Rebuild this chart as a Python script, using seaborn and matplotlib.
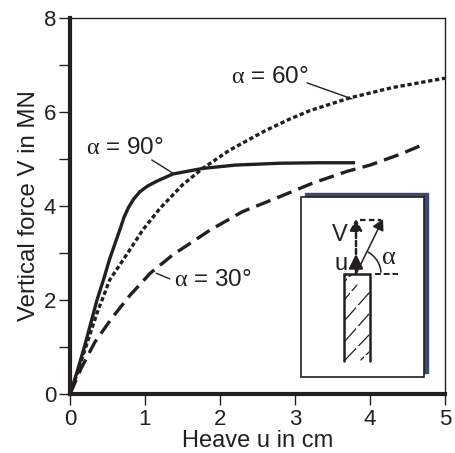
import seaborn as sns
import matplotlib.pyplot as plt
import matplotlib.patches as mpatches
import pandas as pd

# values
u_90 = [0, 0.1, 0.2, 0.36, 0.45, 0.53, 0.6, 0.67, 0.72, 0.78, 0.85, 0.93, 1.03, 1.16, 1.37, 1.77, 2.2, 2.8, 3.3, 3.8]
v_90 = [0, 0.5, 1.05, 2.0, 2.45, 2.88, 3.2, 3.52, 3.76, 3.97, 4.15, 4.3, 4.42, 4.53, 4.68, 4.8, 4.87, 4.91, 4.92, 4.92]
u_60 = [0, 0.1, 0.2, 0.36, 0.53, 0.77, 0.97, 1.2, 1.5, 1.77, 2.13, 2.6, 2.93, 3.2, 3.73, 4.3, 5.0]
v_60 = [0, 0.45, 0.95, 1.72, 2.43, 3.0, 3.49, 3.95, 4.45, 4.8, 5.19, 5.6, 5.85, 6.03, 6.3, 6.52, 6.72]
u_30 = [0, 0.15, 0.33, 0.56, 0.8, 1.07, 1.37, 1.87, 2.3, 2.8, 3.24, 3.7, 4.0, 4.4, 4.7]
v_30 = [0, 0.55, 1.1, 1.62, 2.1, 2.57, 2.96, 3.49, 3.88, 4.2, 4.49, 4.74, 4.87, 5.1, 5.3]

df = pd.concat([
    pd.DataFrame({"u": u_90, "V": v_90, "angle": "90"}),
    pd.DataFrame({"u": u_60, "V": v_60, "angle": "60"}),
    pd.DataFrame({"u": u_30, "V": v_30, "angle": "30"}),
])

sns.set_theme(style="ticks")
plt.rcParams["font.family"] = ["Liberation Sans", "DejaVu Sans"]
plt.rcParams["mathtext.fontset"] = "custom"
plt.rcParams["mathtext.rm"] = "Liberation Serif"

ink = "#231f20"
fs = 16
alpha = r"$\mathrm{\alpha}$"
W, H = 455, 453
fig = plt.figure(figsize=(W / 100, H / 100), dpi=100)
ax = fig.add_axes([70 / W, 1 - 394 / H, 375 / W, 376 / H])

sns.lineplot(data=df, x="u", y="V", hue="angle", style="angle",
             palette={"90": ink, "60": ink, "30": ink},
             dashes={"90": (1, 0), "60": (1.3, 0.8), "30": (4.6, 2.2)},
             sort=False, estimator=None, errorbar=None, linewidth=2.4,
             legend=False, ax=ax, zorder=3)

ax.set_xlim(0, 5)
ax.set_ylim(0, 8)
ax.set_xticks([0, 1, 2, 3, 4, 5])
ax.set_yticks([0, 2, 4, 6, 8])
ax.set_yticks([1, 3, 5, 7], minor=True)
ax.tick_params(axis="y", which="both", length=8, width=1, color=ink, labelsize=fs, labelcolor=ink, pad=2)
ax.tick_params(axis="x", length=8, width=1, color=ink, labelsize=fs, labelcolor=ink, pad=3)
ax.set_xlabel("Heave u in cm", fontsize=17, color=ink, labelpad=0)
ax.set_ylabel("Vertical force V in MN", fontsize=17.3, color=ink, labelpad=3)

for side, lw in {"left": 3, "bottom": 3, "top": 1, "right": 1}.items():
    ax.spines[side].set_visible(True)
    ax.spines[side].set_linewidth(lw)
    ax.spines[side].set_color(ink)

# curve labels
ax.text(0.21, 5.23, alpha + " = 90°", fontsize=17.5, color=ink, va="center")
ax.plot([1.09, 1.37], [4.98, 4.7], color=ink, lw=1)
ax.text(1.38, 2.43, alpha + " = 30°", fontsize=17.5, color=ink, va="center")
ax.plot([1.15, 1.33], [2.57, 2.45], color=ink, lw=1)
ax.text(2.15, 6.74, alpha + " = 60°", fontsize=17.5, color=ink, va="center")
ax.plot([3.16, 3.76], [6.62, 6.28], color=ink, lw=1)

# inset sketch, drawn in pixel coordinates of the figure
sk = fig.add_axes([0, 0, 1, 1], facecolor="none", zorder=5)
sk.set_xlim(0, W)
sk.set_ylim(H, 0)
sk.axis("off")
sk.add_patch(mpatches.Rectangle((305, 193), 123, 180, fc="#3c4a6e", ec="#3c4a6e", lw=1))
sk.add_patch(mpatches.Rectangle((301, 197), 123, 180, fc="white", ec=ink, lw=1.2))

# wall
sk.plot([344, 344, 370, 370], [361, 274, 274, 361], color=ink, lw=1.8, solid_joinstyle="miter")
hatch = [((345, 299), (357, 285)), ((345, 320), (369, 293)), ((345, 341), (369, 314)),
         ((345, 360), (369, 335)), ((361, 360), (369, 352)), ((345, 281), (351, 275))]
for a, b in hatch:
    sk.plot([a[0], b[0]], [a[1], b[1]], color=ink, lw=0.9)
    sk.add_patch(mpatches.Rectangle(((a[0] + b[0]) / 2 - 1.5, (a[1] + b[1]) / 2 - 1.5), 3, 3, fc="white", ec="none", zorder=4))

# arrows
sk.annotate("", xy=(356, 254), xytext=(356, 274), arrowprops=dict(arrowstyle="-|>,head_width=0.35,head_length=0.7", color=ink, lw=1.8, shrinkA=0, shrinkB=0))
sk.annotate("", xy=(356, 219), xytext=(356, 254), arrowprops=dict(arrowstyle="-|>,head_width=0.3,head_length=0.55", color=ink, lw=1.8, ls=(0, (2, 1.2)), shrinkA=0, shrinkB=0))
sk.annotate("", xy=(383, 219), xytext=(356, 274), arrowprops=dict(arrowstyle="-|>,head_width=0.3,head_length=0.55", color=ink, lw=1.1, shrinkA=0, shrinkB=0))
sk.plot([360, 381], [220, 220], color=ink, lw=1.6, ls=(0, (2.5, 1.5)))
sk.plot([375, 398], [274, 274], color=ink, lw=1.4, ls=(0, (3, 1.5)))
sk.add_patch(mpatches.Arc((356, 274), 50, 50, theta1=-62, theta2=-3, ec=ink, lw=1.1))
sk.text(340, 235, "V", fontsize=17, color=ink, ha="center", va="center")
sk.text(341, 264, "u", fontsize=17, color=ink, ha="center", va="center")
sk.text(389, 257, alpha, fontsize=19, color=ink, ha="center", va="center")

fig.savefig("out.png", dpi=100)
